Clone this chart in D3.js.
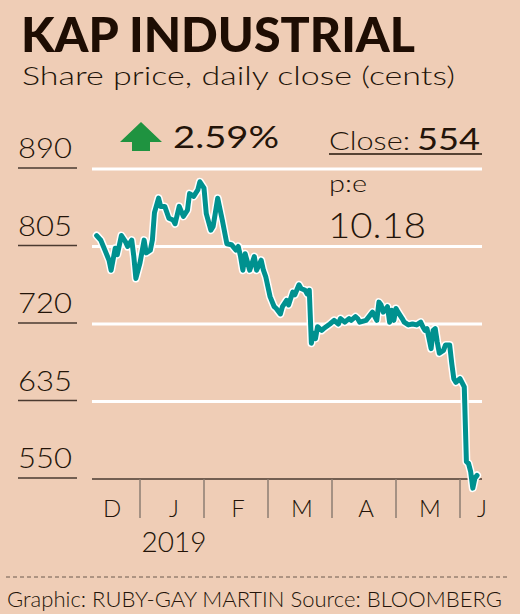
<!DOCTYPE html>
<html>
<head>
<meta charset="utf-8">
<script src="https://cdn.jsdelivr.net/npm/d3@7"></script>
<style>
  html, body { margin: 0; padding: 0; background: #efcdb6; }
  svg { display: block; font-family: Lato, 'Open Sans', sans-serif; }
</style>
</head>
<body>
<div id="viz"></div>
<script>
// daily close, cents
const dates = [
  '2018-12-11', '2018-12-13', '2018-12-15', '2018-12-17', '2018-12-18', '2018-12-20', '2018-12-21',
  '2018-12-23', '2018-12-25', '2018-12-26', '2018-12-28', '2018-12-29', '2018-12-30',
  '2019-01-01', '2019-01-03', '2019-01-04', '2019-01-06', '2019-01-07', '2019-01-08', '2019-01-10',
  '2019-01-11', '2019-01-13', '2019-01-15', '2019-01-17', '2019-01-18', '2019-01-20', '2019-01-22',
  '2019-01-24', '2019-01-25', '2019-01-27', '2019-01-29', '2019-01-30',
  '2019-02-01', '2019-02-02', '2019-02-04', '2019-02-05', '2019-02-07', '2019-02-09', '2019-02-11',
  '2019-02-13', '2019-02-15', '2019-02-16', '2019-02-17', '2019-02-18', '2019-02-19', '2019-02-20',
  '2019-02-21', '2019-02-23', '2019-02-24', '2019-02-26', '2019-02-27', '2019-02-28',
  '2019-03-02', '2019-03-04', '2019-03-05', '2019-03-07', '2019-03-08', '2019-03-10', '2019-03-11',
  '2019-03-13', '2019-03-14', '2019-03-16', '2019-03-17', '2019-03-19', '2019-03-20', '2019-03-21',
  '2019-03-22', '2019-03-23', '2019-03-24', '2019-03-25', '2019-03-27', '2019-03-28', '2019-03-31',
  '2019-04-02', '2019-04-04', '2019-04-05', '2019-04-07', '2019-04-09', '2019-04-10', '2019-04-12',
  '2019-04-13', '2019-04-14', '2019-04-17', '2019-04-19', '2019-04-20', '2019-04-22', '2019-04-23',
  '2019-04-24', '2019-04-25', '2019-04-27', '2019-04-28', '2019-04-29', '2019-04-30',
  '2019-05-01', '2019-05-02', '2019-05-04', '2019-05-05', '2019-05-07', '2019-05-09', '2019-05-11',
  '2019-05-13', '2019-05-14', '2019-05-15', '2019-05-16', '2019-05-18', '2019-05-19', '2019-05-20',
  '2019-05-21', '2019-05-22', '2019-05-24', '2019-05-25', '2019-05-27', '2019-05-28', '2019-05-29',
  '2019-05-30',
  '2019-06-01', '2019-06-03', '2019-06-04', '2019-06-05', '2019-06-06', '2019-06-07', '2019-06-08',
  '2019-06-09'];

const closes = [
  817, 812, 801, 790, 779, 803, 796,
  817, 810, 805, 812, 794, 770,
  787, 812, 798, 801, 812, 842, 858,
  849, 849, 836, 834, 830, 849, 838,
  845, 863, 860, 867, 876,
  869, 841, 823, 827, 858, 834, 808,
  807, 801, 805, 794, 779, 797, 788,
  779, 794, 779, 790, 779, 772,
  750, 739, 737, 731, 739, 746, 741,
  755, 752, 763, 759, 757, 753, 757,
  699, 710, 704, 717, 713, 715, 720,
  724, 720, 726, 722, 726, 724, 728,
  726, 722, 724, 730, 733, 724, 744,
  741, 733, 739, 722, 735, 724,
  737, 733, 726, 722, 719, 720, 719,
  722, 717, 713, 715, 693, 713, 715,
  700, 688, 691, 697, 697, 677, 660,
  656,
  660, 651, 569, 567, 558, 540, 551,
  554];

const yTicks = [550, 635, 720, 805, 890];
const monthStarts = ['2018-12-01', '2019-01-01', '2019-02-01', '2019-03-01',
  '2019-04-01', '2019-05-01', '2019-06-01', '2019-07-01'];
const monthLabels = ['D', 'J', 'F', 'M', 'A', 'M', 'J'];

const title = 'KAP INDUSTRIAL';
const subtitle = 'Share price, daily close (cents)';
const change = '2.59%';
const closeValue = '554';
const peValue = '10.18';
const footer = 'Graphic: RUBY-GAY MARTIN Source: BLOOMBERG';

const width = 520;
const height = 614;
const ink = '#231409';
const teal = '#00918f';

const parse = d3.utcParse('%Y-%m-%d');
const series = dates.map((d, i) => ({ date: parse(d), value: closes[i] }));
const months = monthStarts.map(parse);

const plotLeft = 92;
const plotRight = 482;
const monthW = 64;

// months are drawn at equal width, so the time scale is piecewise
const x = d3.scaleUtc()
    .domain(months)
    .range(months.map((d, i) => 140 - monthW + i * monthW));

const y = d3.scaleLinear()
    .domain([550, 890])
    .range([479, 169]);

const svg = d3.select('#viz')
    .append('svg')
    .attr('width', width)
    .attr('height', height);

svg.append('rect')
    .attr('width', width)
    .attr('height', height)
    .attr('fill', '#efcdb6');

// helper for text that has to fill a measured width
const label = (sel, txt, xPos, yPos, size, weight, len) => {
  const t = sel.append('text')
      .attr('x', xPos)
      .attr('y', yPos)
      .text(txt)
      .style('font-size', `${size}px`)
      .style('font-weight', weight)
      .style('fill', ink);
  if (len) {
    t.attr('textLength', len).attr('lengthAdjust', 'spacingAndGlyphs');
  }
  return t;
};

// title block
label(svg, title, 21, 52, 48, 900, 394).style('fill', '#1e0d03');
label(svg, subtitle, 22, 85, 26, 300, 433);

// gridlines
const grid = svg.append('g');
grid.selectAll('line')
    .data(yTicks.filter((d) => d !== 550))
    .enter()
    .append('line')
    .attr('x1', plotLeft)
    .attr('x2', plotRight)
    .attr('y1', (d) => y(d))
    .attr('y2', (d) => y(d))
    .style('stroke', '#ffffff')
    .style('stroke-width', 3);

// y labels with short underlines
const yAxis = svg.append('g');
yAxis.selectAll('text')
    .data(yTicks)
    .enter()
    .append('text')
    .attr('x', 18)
    .attr('y', (d) => y(d) - 11)
    .attr('textLength', 54)
    .attr('lengthAdjust', 'spacingAndGlyphs')
    .text((d) => d)
    .style('font-size', '28px')
    .style('font-weight', 300)
    .style('fill', ink);
yAxis.selectAll('line')
    .data(yTicks)
    .enter()
    .append('line')
    .attr('x1', 18)
    .attr('x2', 77)
    .attr('y1', (d) => y(d) - 1)
    .attr('y2', (d) => y(d) - 1)
    .style('stroke', '#4a3a30')
    .style('stroke-width', 1.5);

// x axis base and month dividers
svg.append('line')
    .attr('x1', plotLeft)
    .attr('x2', plotRight)
    .attr('y1', y(550))
    .attr('y2', y(550))
    .style('stroke', '#4a3a30')
    .style('stroke-width', 1.5);

const dividers = months.filter((d) => x(d) > plotLeft && x(d) < plotRight);
svg.append('g')
    .selectAll('line')
    .data(dividers)
    .enter()
    .append('line')
    .attr('x1', (d) => x(d))
    .attr('x2', (d) => x(d))
    .attr('y1', y(550))
    .attr('y2', 518)
    .style('stroke', '#8c7c72')
    .style('stroke-width', 1.5);

svg.append('g')
    .selectAll('text')
    .data(monthLabels)
    .enter()
    .append('text')
    .attr('x', (d, i) => {
      const a = Math.max(x(months[i]), 80);
      const b = Math.min(x(months[i + 1]), 500);
      return (a + b) / 2 + 2;
    })
    .attr('y', 517)
    .attr('text-anchor', 'middle')
    .text((d) => d)
    .style('font-size', '24px')
    .style('font-weight', 300)
    .style('fill', ink);

svg.append('text')
    .attr('x', (x(months[1]) + x(months[2])) / 2 + 2)
    .attr('y', 552)
    .attr('text-anchor', 'middle')
    .text('2019')
    .style('font-size', '28px')
    .style('font-weight', 300)
    .style('fill', ink);

// price line with a white halo
const line = d3.line()
    .x((d) => x(d.date))
    .y((d) => y(d.value));

svg.append('path')
    .datum(series)
    .attr('d', line)
    .style('fill', 'none')
    .style('stroke', '#ffffff')
    .style('stroke-width', 8)
    .style('stroke-linejoin', 'round')
    .style('stroke-linecap', 'round');

svg.append('path')
    .datum(series)
    .attr('d', line)
    .style('fill', 'none')
    .style('stroke', teal)
    .style('stroke-width', 5)
    .style('stroke-linejoin', 'round')
    .style('stroke-linecap', 'round');

// change arrow and value
svg.append('path')
    .attr('d', 'M120,142 L141,122 L162,142 L150,142 L150,151 L132,151 L132,142 Z')
    .style('fill', '#1f9340');

label(svg, change, 173, 148, 31, 400, 106);

// close
label(svg, 'Close:', 329, 150, 26, 300, 81);
label(svg, closeValue, 417, 150, 31, 400, 63);

svg.append('line')
    .attr('x1', 329)
    .attr('x2', 482)
    .attr('y1', 154)
    .attr('y2', 154)
    .style('stroke', ink)
    .style('stroke-width', 1.5);

// p:e
label(svg, 'p:e', 329, 192, 24, 300, 38);
label(svg, peValue, 328, 238, 36, 300, 98);

// footer
svg.append('line')
    .attr('x1', 6)
    .attr('x2', 510)
    .attr('y1', 577)
    .attr('y2', 577)
    .style('stroke', '#6c5a4e')
    .style('stroke-width', 1)
    .style('stroke-dasharray', '4,3');

label(svg, footer, 7, 607, 21, 300, 495);
</script>
</body>
</html>
